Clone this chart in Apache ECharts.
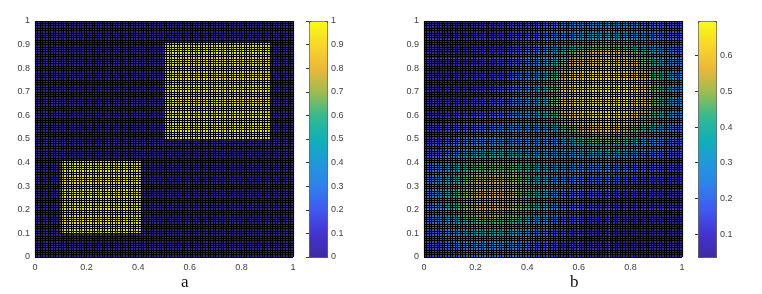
<!DOCTYPE html>
<html><head><meta charset="utf-8">
<style>html,body{margin:0;padding:0;background:#fff}#c{width:762px;height:294px}</style>
<script src="https://cdn.jsdelivr.net/npm/echarts@6/dist/echarts.min.js"></script>
</head><body><div id="c"></div>
<script>
var captions = ['a', 'b'];
var axisTicks = ['0', '0.1', '0.2', '0.3', '0.4', '0.5', '0.6', '0.7', '0.8', '0.9', '1'];
var colorTicksA = [0, 0.1, 0.2, 0.3, 0.4, 0.5, 0.6, 0.7, 0.8, 0.9, 1];
var colorTicksB = [0.1, 0.2, 0.3, 0.4, 0.5, 0.6];
var rangeA = [0, 1];
var rangeB = [0.036, 0.697];
// Panel a: flat regions [x0, x1, y0, y1, value]
var regionsA = [
  [0, 1, 0, 1, 0],
  [0.1, 0.41, 0.1, 0.41, 1],
  [0.5, 0.91, 0.5, 0.91, 1]
];
// Panel b: values in hundredths, top row first, cells 0.04 wide
var rowsB = [
  [6,5,4,4,5,6,7,8,9,11,13,16,19,21,24,26,27,28,27,26,24,21,19,16,13],
  [6,5,4,5,6,7,7,9,11,13,16,19,23,27,30,34,35,36,35,34,30,27,23,19,16],
  [6,5,4,5,6,7,8,9,12,15,19,23,27,33,38,43,46,47,46,43,38,33,27,23,19],
  [6,5,5,5,6,7,9,11,14,17,21,27,33,40,47,53,58,59,58,53,47,40,33,27,21],
  [6,5,5,6,7,8,9,12,15,19,24,30,38,47,57,62,64,65,64,62,57,47,38,30,24],
  [6,5,5,6,7,8,9,12,16,21,26,34,43,53,62,66,68,68,68,66,62,53,43,34,26],
  [6,5,6,7,8,9,11,14,18,22,28,35,46,58,64,68,69,69,69,68,64,58,46,35,27],
  [6,5,6,8,9,10,12,15,19,24,29,37,47,60,65,68,69,69,69,68,65,59,47,36,28],
  [6,6,7,9,11,12,14,17,21,24,29,37,48,59,65,68,69,69,69,68,64,58,46,35,27],
  [6,7,9,11,12,14,15,18,21,26,30,37,45,55,63,67,68,68,68,66,62,53,43,34,26],
  [8,9,11,14,16,17,18,21,24,26,28,33,40,50,59,63,65,65,64,62,57,47,38,30,24],
  [9,11,14,16,18,20,22,24,26,25,26,29,33,40,48,55,59,60,58,53,47,40,33,27,21],
  [11,14,16,20,24,25,27,27,26,26,26,27,28,33,38,43,47,48,46,43,38,33,27,23,19],
  [14,16,20,25,30,32,33,34,33,29,28,27,28,30,32,35,37,37,35,34,30,27,23,19,16],
  [16,20,25,30,35,38,40,40,39,37,34,32,29,28,28,29,29,29,28,26,24,21,19,16,13],
  [19,24,30,36,43,46,47,47,46,41,37,33,30,28,27,26,24,24,22,21,19,17,15,13,11],
  [22,28,34,42,48,52,54,53,51,46,39,35,30,26,24,21,21,19,18,16,15,14,12,11,9],
  [22,29,36,44,51,55,57,57,53,47,40,34,27,24,21,18,17,15,14,12,12,11,9,9,8],
  [23,30,37,45,52,56,58,57,54,47,40,33,27,22,18,15,14,12,11,9,9,9,8,7,7],
  [22,29,36,44,51,55,56,55,52,46,38,32,25,20,17,14,12,10,9,8,8,7,7,7,6],
  [22,28,34,42,48,51,52,51,48,43,35,30,24,18,16,12,11,9,8,7,7,6,6,6,5],
  [19,24,30,36,42,44,45,44,42,36,31,26,20,16,13,10,8,7,6,6,5,5,5,5,4],
  [16,20,25,30,34,36,37,36,34,30,25,20,16,13,10,8,6,5,5,4,4,4,4,4,4],
  [14,16,20,24,28,29,30,29,28,24,20,16,14,11,9,7,5,5,4,4,4,4,4,4,4],
  [11,14,16,19,22,22,23,22,22,19,16,14,11,9,8,6,6,5,4,4,4,4,4,4,4]
];
var parula = ['#3d2a9f','#4433d0','#4058f0','#307fec','#2098da','#0fb0b8','#35ba90','#9cbc50','#ecb83a','#f8d62a','#f9fb15'];

var cellsB = [];
rowsB.forEach(function (row, r) {
  row.forEach(function (v, c) {
    cellsB.push([c * 0.04, (c + 1) * 0.04, 1 - (r + 1) * 0.04, 1 - r * 0.04, v / 100]);
  });
});
function renderCell(p, api) {
  var a = api.coord([api.value(0), api.value(2)]);
  var b = api.coord([api.value(1), api.value(3)]);
  return {
    type: 'rect',
    shape: { x: a[0], y: b[1], width: b[0] - a[0], height: a[1] - b[1] },
    style: { fill: api.visual('color') }
  };
}
var labelStyle = { fontFamily: 'Liberation Sans', fontSize: 9, color: '#404040' };
var gridLine = { show: true, lineStyle: { color: '#000', width: 1.2, opacity: 1 } };
function mainX(i) {
  return {
    gridIndex: i, type: 'value', min: 0, max: 1, interval: 0.1, z: 5,
    axisLine: { show: false }, axisTick: { show: false },
    axisLabel: Object.assign({ margin: 6, hideOverlap: false, formatter: function (v) { return axisTicks[Math.round(v * 10)]; }, customValues: [0, 0.2, 0.4, 0.6, 0.8, 1] }, labelStyle),
    splitLine: gridLine, minorTick: { show: false, splitNumber: 10 }, minorSplitLine: gridLine
  };
}
function mainY(i) {
  return {
    gridIndex: i, type: 'value', min: 0, max: 1, interval: 0.1, z: 5,
    axisLine: { show: false }, axisTick: { show: false },
    axisLabel: Object.assign({ margin: 5, formatter: function (v) { return axisTicks[Math.round(v * 10)]; } }, labelStyle),
    splitLine: gridLine, minorTick: { show: false, splitNumber: 10 }, minorSplitLine: gridLine
  };
}
function barX(i) { return { gridIndex: i, type: 'value', min: 0, max: 1, show: false }; }
function barY(i, range, ticks) {
  return {
    gridIndex: i, type: 'value', min: range[0], max: range[1], position: 'right', z: 8,
    axisLine: { show: false }, splitLine: { show: false },
    axisTick: { show: true, inside: true, length: 3, customValues: ticks, lineStyle: { color: '#333', width: 1 } },
    axisLabel: Object.assign({ margin: 4, customValues: ticks, formatter: function (v) { return String(Math.round(v * 10) / 10); } }, labelStyle)
  };
}
function legend(idx, range, left) {
  return {
    type: 'continuous', seriesIndex: idx, dimension: 4, min: range[0], max: range[1],
    calculable: false, realtime: false, hoverLink: false, left: left, top: 21, itemWidth: 18, itemHeight: 236,
    padding: 0, borderWidth: 1, borderColor: '#444', text: null, showLabel: false,
    inRange: { color: parula }
  };
}
var chart = echarts.init(document.getElementById('c'), null, { renderer: 'canvas' });
chart.setOption({
  animation: false,
  backgroundColor: '#fff',
  title: [
    { text: captions[0], left: 176, top: 269, textStyle: { fontFamily: 'Liberation Serif', fontSize: 17, fontWeight: 'normal', color: '#111' } },
    { text: captions[1], left: 565, top: 269, textStyle: { fontFamily: 'Liberation Serif', fontSize: 17, fontWeight: 'normal', color: '#111' } }
  ],
  grid: [
    { left: 35, top: 21, width: 258, height: 236 },
    { left: 424, top: 21, width: 258, height: 236 },
    { left: 309, top: 21, width: 18, height: 236 },
    { left: 698, top: 21, width: 18, height: 236 }
  ],
  xAxis: [mainX(0), mainX(1), barX(2), barX(3)],
  yAxis: [mainY(0), mainY(1), barY(2, rangeA, colorTicksA), barY(3, rangeB, colorTicksB)],
  visualMap: [legend(0, rangeA, 309), legend(1, rangeB, 698)],
  series: [
    { type: 'custom', xAxisIndex: 0, yAxisIndex: 0, renderItem: renderCell, data: regionsA, encode: { x: [0, 1], y: [2, 3] }, silent: true, z: 1 },
    { type: 'custom', xAxisIndex: 1, yAxisIndex: 1, renderItem: renderCell, data: cellsB, encode: { x: [0, 1], y: [2, 3] }, silent: true, z: 1 }
  ]
});
</script></body></html>
